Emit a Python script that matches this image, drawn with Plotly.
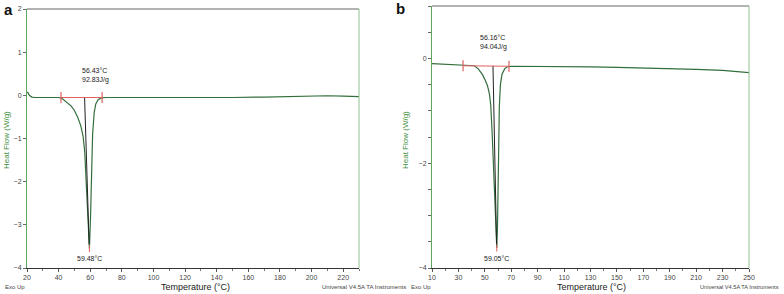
import plotly.graph_objects as go

# ---------------- data ----------------
a_temp = [20, 20.6, 21.5, 23, 25, 30, 40, 42, 45, 48, 50, 52, 54, 55.5, 56.5, 57.5, 58.5, 59.48,
          60.2, 60.8, 61.5, 62.5, 63.5, 65, 67, 70, 80, 100, 120, 130, 150, 170, 180, 200, 210, 220, 230]
a_heat = [0.08, 0.06, 0.0, -0.04, -0.05, -0.05, -0.05, -0.07, -0.15, -0.25, -0.35, -0.5, -0.7, -0.95,
          -1.3, -2.0, -2.9, -3.55, -2.8, -1.8, -0.9, -0.4, -0.2, -0.1, -0.06, -0.05, -0.05, -0.05,
          -0.06, -0.06, -0.05, -0.04, -0.03, -0.02, -0.01, -0.02, -0.03]

b_temp = [10, 20, 30, 40, 42, 45, 48, 50, 52, 53.5, 54.5, 55.5, 56.5, 57.5, 58.5, 59.05, 59.6, 60.0,
          60.5, 61, 61.8, 63, 65, 67, 70, 90, 110, 130, 150, 170, 190, 210, 230, 250]
b_heat = [-0.10, -0.11, -0.12, -0.13, -0.14, -0.2, -0.3, -0.4, -0.52, -0.68, -0.9, -1.4, -2.1, -2.8,
          -3.35, -3.62, -3.2, -2.4, -1.5, -0.9, -0.5, -0.3, -0.2, -0.16, -0.15, -0.15, -0.15, -0.16,
          -0.17, -0.18, -0.19, -0.21, -0.23, -0.27]

# integration baseline limits, onset and peak
a_base_t = [41.5, 67.5]
a_base_h = [-0.05, -0.05]
a_onset_t = [56.43, 59.3]
a_onset_h = [-0.05, -3.45]
a_peak = (59.48, -3.55)
a_labels = ["56.43°C<br>92.83J/g", "59.48°C"]

b_base_t = [33.5, 68.3]
b_base_h = [-0.14, -0.15]
b_onset_t = [56.16, 58.9]
b_onset_h = [-0.14, -3.55]
b_peak = (59.05, -3.62)
b_labels = ["56.16°C<br>94.04J/g", "59.05°C"]

a_xticks = list(range(20, 221, 20))
b_xticks = list(range(10, 251, 20))
a_yticks = [2, 1, 0, -1, -2, -3, -4]
b_yticks = [0, -2, -4]

# ---------------- figure ----------------
W, H = 784, 294
CURVE = "#336f3c"
GREEN_AX = "#5fa65f"
RED = "#e06060"
FONT = "Liberation Sans, Arial, sans-serif"

fig = go.Figure()

def add_panel(xa, ya, t, h, bt, bh, ot, oh, peak):
    fig.add_trace(go.Scatter(x=t, y=h, mode="lines", line=dict(color=CURVE, width=1.2),
                             xaxis=xa, yaxis=ya, showlegend=False, hoverinfo="skip"))
    fig.add_trace(go.Scatter(x=ot, y=oh, mode="lines", line=dict(color="#222222", width=1),
                             xaxis=xa, yaxis=ya, showlegend=False, hoverinfo="skip"))
    fig.add_trace(go.Scatter(x=bt, y=bh, mode="lines+markers", line=dict(color=RED, width=1.2),
                             marker=dict(symbol="line-ns", size=8, line=dict(color=RED, width=1.2)),
                             xaxis=xa, yaxis=ya, showlegend=False, hoverinfo="skip"))
    fig.add_trace(go.Scatter(x=[peak[0]], y=[peak[1]], mode="markers",
                             marker=dict(symbol="line-ns", size=5, line=dict(color=RED, width=1)),
                             xaxis=xa, yaxis=ya, showlegend=False, hoverinfo="skip"))

add_panel("x", "y", a_temp, a_heat, a_base_t, a_base_h, a_onset_t, a_onset_h, a_peak)
add_panel("x2", "y2", b_temp, b_heat, b_base_t, b_base_h, b_onset_t, b_onset_h, b_peak)

xax_common = dict(showline=True, linecolor="#333333", linewidth=1, ticks="outside", ticklen=3,
                  tickcolor="#555555", tickfont=dict(size=7, color="#444444", family=FONT),
                  showgrid=False, zeroline=False, automargin=False)
yax_common = dict(showline=True, linecolor=GREEN_AX, linewidth=1, ticks="outside", ticklen=3,
                  tickcolor="#666666", tickfont=dict(size=7, color="#444444", family=FONT),
                  showgrid=False, zeroline=False, automargin=False)

fig.update_layout(
    width=W, height=H, margin=dict(l=0, r=0, t=0, b=0),
    paper_bgcolor="white", plot_bgcolor="white",
    font=dict(family=FONT),
    xaxis=dict(xax_common, domain=[27 / W, 359 / W], range=[20, 230], tickvals=a_xticks,
               minor=dict(ticks="outside", ticklen=2, tickcolor="#777777", dtick=10, tick0=20),
               anchor="y"),
    yaxis=dict(yax_common, domain=[(H - 268) / H, (H - 9) / H], range=[-4, 2], tickvals=a_yticks,
               anchor="x"),
    xaxis2=dict(xax_common, domain=[432 / W, 749 / W], range=[10, 250], tickvals=b_xticks,
                minor=dict(ticks="outside", ticklen=2, tickcolor="#777777", dtick=10, tick0=10),
                anchor="y2"),
    yaxis2=dict(yax_common, domain=[(H - 268) / H, (H - 6) / H], range=[-4, 1], tickvals=b_yticks,
                minor=dict(ticks="outside", ticklen=3, tickcolor="#666666", dtick=0.5, tick0=0),
                anchor="x2"),
)

# top frame (gray) and right frame (light green)
for xr, yr in [("x domain", "y domain"), ("x2 domain", "y2 domain")]:
    fig.add_shape(type="line", xref=xr, yref=yr, x0=0, x1=1, y0=1, y1=1,
                  line=dict(color="#666666", width=1))
    fig.add_shape(type="line", xref=xr, yref=yr, x0=1, x1=1, y0=0, y1=1,
                  line=dict(color="#8fc08f", width=1))

ann = []
# value labels
ann.append(dict(x=a_onset_t[0] + 7, y=0.45, xref="x", yref="y", text=a_labels[0], showarrow=False,
                font=dict(size=7, color="#222222"), align="left"))
ann.append(dict(x=a_peak[0], y=a_peak[1] - 0.22, xref="x", yref="y", text=a_labels[1], showarrow=False,
                font=dict(size=7, color="#222222")))
ann.append(dict(x=b_onset_t[0] + 0.5, y=0.3, xref="x2", yref="y2", text=b_labels[0], showarrow=False,
                font=dict(size=7, color="#222222"), align="left"))
ann.append(dict(x=b_peak[0], y=b_peak[1] - 0.2, xref="x2", yref="y2", text=b_labels[1], showarrow=False,
                font=dict(size=7, color="#222222")))

# panel letters
ann.append(dict(x=2 / W, y=1 - 9 / H, xref="paper", yref="paper", text="<b>a</b>", showarrow=False,
                xanchor="left", yanchor="middle", font=dict(size=15, color="#111111", family=FONT)))
ann.append(dict(x=394 / W, y=1 - 8 / H, xref="paper", yref="paper", text="<b>b</b>", showarrow=False,
                xanchor="left", yanchor="middle", font=dict(size=15, color="#111111", family=FONT)))

# y axis titles
for xp in [6, 405]:
    ann.append(dict(x=xp / W, y=1 - 140 / H, xref="paper", yref="paper", text="Heat Flow (W/g)",
                    showarrow=False, textangle=-90, xanchor="center", yanchor="middle",
                    font=dict(size=8, color="#3d8f3d", family=FONT)))

# x axis titles
for xp in [195, 591]:
    ann.append(dict(x=xp / W, y=1 - 287 / H, xref="paper", yref="paper", text="Temperature (°C)",
                    showarrow=False, xanchor="center", yanchor="middle",
                    font=dict(size=9, color="#222222", family=FONT)))

# footer texts
ann.append(dict(x=3 / W, y=1 - 287 / H, xref="paper", yref="paper", text="Exo Up", showarrow=False,
                xanchor="left", yanchor="middle", font=dict(size=6, color="#444444", family=FONT)))
ann.append(dict(x=409 / W, y=1 - 287 / H, xref="paper", yref="paper", text="Exo Up", showarrow=False,
                xanchor="left", yanchor="middle", font=dict(size=6, color="#444444", family=FONT)))
ann.append(dict(x=320 / W, y=1 - 287 / H, xref="paper", yref="paper",
                text="Universal V4.5A TA Instruments", showarrow=False,
                xanchor="left", yanchor="middle", font=dict(size=6, color="#444444", family=FONT)))
ann.append(dict(x=781 / W, y=1 - 287 / H, xref="paper", yref="paper",
                text="Universal V4.5A TA Instruments", showarrow=False,
                xanchor="right", yanchor="middle", font=dict(size=5.6, color="#444444", family=FONT)))

fig.update_layout(annotations=ann)
fig.write_html("out.html", config={"displayModeBar": False},
               post_script="document.body.style.margin='0';document.body.style.overflow='hidden';")
